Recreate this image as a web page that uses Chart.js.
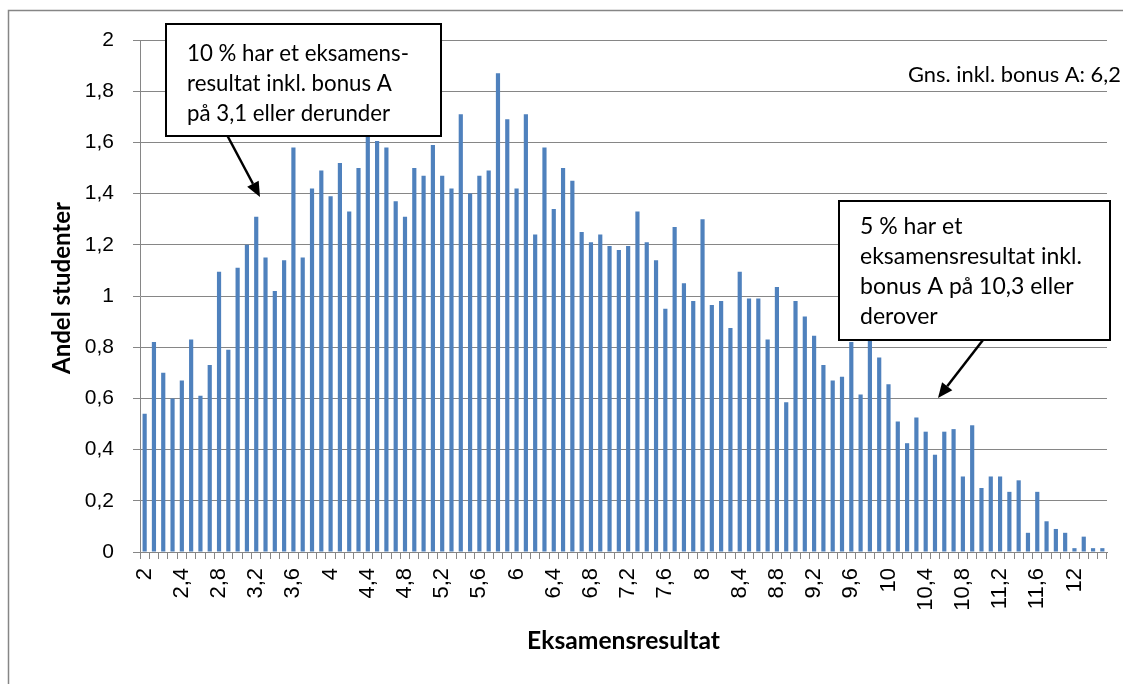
<!DOCTYPE html>
<html>
<head>
<meta charset="utf-8">
<script src="https://cdn.jsdelivr.net/npm/chart.js@4.4.0/dist/chart.umd.min.js"></script>
<style>
  html, body { margin: 0; padding: 0; background: #ffffff; }
  #wrap { width: 1123px; height: 684px; position: relative; }
</style>
</head>
<body>
<div id="wrap"><canvas id="c" width="1123" height="684"></canvas></div>
<script>
// Categories (exam result, step 0.1)
const categories = [
  "2","2,1","2,2","2,3","2,4","2,5","2,6","2,7","2,8","2,9",
  "3","3,1","3,2","3,3","3,4","3,5","3,6","3,7","3,8","3,9",
  "4","4,1","4,2","4,3","4,4","4,5","4,6","4,7","4,8","4,9",
  "5","5,1","5,2","5,3","5,4","5,5","5,6","5,7","5,8","5,9",
  "6","6,1","6,2","6,3","6,4","6,5","6,6","6,7","6,8","6,9",
  "7","7,1","7,2","7,3","7,4","7,5","7,6","7,7","7,8","7,9",
  "8","8,1","8,2","8,3","8,4","8,5","8,6","8,7","8,8","8,9",
  "9","9,1","9,2","9,3","9,4","9,5","9,6","9,7","9,8","9,9",
  "10","10,1","10,2","10,3","10,4","10,5","10,6","10,7","10,8","10,9",
  "11","11,1","11,2","11,3","11,4","11,5","11,6","11,7","11,8","11,9",
  "12","12,1","12,2","12,3"
];

// Share of students (%) per result
const shareValues = [
  0.54, 0.82, 0.70, 0.60, 0.67, 0.83, 0.61, 0.73, 1.095, 0.79,
  1.11, 1.20, 1.31, 1.15, 1.02, 1.14, 1.58, 1.15, 1.42, 1.49,
  1.39, 1.52, 1.33, 1.50, 1.64, 1.605, 1.58, 1.37, 1.31, 1.50,
  1.47, 1.59, 1.47, 1.42, 1.71, 1.40, 1.47, 1.49, 1.87, 1.69,
  1.42, 1.71, 1.24, 1.58, 1.34, 1.50, 1.45, 1.25, 1.21, 1.24,
  1.195, 1.18, 1.195, 1.33, 1.21, 1.14, 0.95, 1.27, 1.05, 0.98,
  1.30, 0.965, 0.98, 0.875, 1.095, 0.99, 0.99, 0.83, 1.035, 0.585,
  0.98, 0.92, 0.845, 0.73, 0.67, 0.685, 0.82, 0.615, 0.85, 0.76,
  0.655, 0.51, 0.425, 0.525, 0.47, 0.38, 0.47, 0.48, 0.295, 0.495,
  0.25, 0.295, 0.295, 0.235, 0.28, 0.075, 0.235, 0.12, 0.09, 0.075,
  0.015, 0.06, 0.015, 0.015
];

// Tick labels shown on the x axis
const xTickLabels = ["2","2,4","2,8","3,2","3,6","4","4,4","4,8","5,2","5,6","6","6,4","6,8",
  "7,2","7,6","8","8,4","8,8","9,2","9,6","10","10,4","10,8","11,2","11,6","12"];

// Y tick labels
const yTickValues = [0, 0.2, 0.4, 0.6, 0.8, 1, 1.2, 1.4, 1.6, 1.8, 2];
const yTickLabels = ["0","0,2","0,4","0,6","0,8","1","1,2","1,4","1,6","1,8","2"];

const annotationLow = ["10 % har et eksamens-", "resultat inkl. bonus A", "på 3,1 eller derunder"];
const annotationHigh = ["5 % har et", "eksamensresultat inkl.", "bonus A på 10,3 eller", "derover"];
const meanText = "Gns. inkl. bonus A: 6,2";
const yTitleText = "Andel studenter";
const xTitleText = "Eksamensresultat";

const GRID = '#868686';
const CAL = 'Lato, "Noto Sans", sans-serif';
const ARIAL = '"Liberation Sans", Arial, sans-serif';

// font size that makes `text` about `target` px wide
function fitSize(text, target, weight) {
  const c = document.createElement('canvas').getContext('2d');
  c.font = (weight || 'normal') + ' 100px ' + CAL;
  return 100 * target / c.measureText(text).width;
}
const boxLowSize = fitSize("resultat inkl. bonus A", 205);
const boxHighSize = fitSize("eksamensresultat inkl.", 222);
const meanSize = fitSize(meanText, 213);
const xTitleSize = fitSize(xTitleText, 193, 'bold');
const yTitleSize = fitSize(yTitleText, 172, 'bold');

function drawArrow(ctx, x1, y1, x2, y2) {
  const ang = Math.atan2(y2 - y1, x2 - x1);
  const hl = 15, hw = 6.5;
  const bx = x2 - hl * Math.cos(ang), by = y2 - hl * Math.sin(ang);
  ctx.save();
  ctx.strokeStyle = '#000'; ctx.fillStyle = '#000';
  ctx.lineWidth = 2.5;
  ctx.beginPath(); ctx.moveTo(x1, y1); ctx.lineTo(bx, by); ctx.stroke();
  ctx.beginPath();
  ctx.moveTo(x2, y2);
  ctx.lineTo(bx + hw * Math.sin(ang), by - hw * Math.cos(ang));
  ctx.lineTo(bx - hw * Math.sin(ang), by + hw * Math.cos(ang));
  ctx.closePath(); ctx.fill();
  ctx.restore();
}

function drawBox(ctx, x, y, w, h, lines, tx, ty, lh, size) {
  ctx.save();
  ctx.fillStyle = '#fff';
  ctx.fillRect(x, y, w, h);
  ctx.strokeStyle = '#000';
  ctx.lineWidth = 2;
  ctx.strokeRect(x, y, w, h);
  ctx.fillStyle = '#000';
  ctx.font = size + 'px ' + CAL;
  ctx.textAlign = 'left';
  ctx.textBaseline = 'middle';
  lines.forEach((l, i) => ctx.fillText(l, tx, ty + i * lh));
  ctx.restore();
}

const decor = {
  id: 'decor',
  beforeDraw(chart) {
    const ctx = chart.ctx;
    ctx.save();
    ctx.fillStyle = '#fff';
    ctx.fillRect(0, 0, chart.width, chart.height);
    ctx.strokeStyle = GRID;
    ctx.lineWidth = 1.5;
    ctx.beginPath();
    ctx.moveTo(8.5, 690); ctx.lineTo(8.5, 10.5); ctx.lineTo(1130, 10.5);
    ctx.stroke();
    ctx.restore();
  },
  afterDraw(chart) {
    const ctx = chart.ctx;
    // y axis title
    ctx.save();
    ctx.translate(62, 288);
    ctx.rotate(-Math.PI / 2);
    ctx.fillStyle = '#000';
    ctx.font = 'bold ' + yTitleSize + 'px ' + CAL;
    ctx.textAlign = 'center';
    ctx.textBaseline = 'middle';
    ctx.fillText(yTitleText, 0, 0);
    ctx.restore();

    drawArrow(ctx, 227, 135, 260, 197);
    drawArrow(ctx, 983, 340, 938, 398);
    drawBox(ctx, 166, 24, 275, 112, annotationLow, 187, 54, 30, boxLowSize);
    drawBox(ctx, 839, 201, 271, 139, annotationHigh, 860, 227, 30, boxHighSize);
    ctx.save();
    ctx.fillStyle = '#000';
    ctx.font = meanSize + 'px ' + CAL;
    ctx.textAlign = 'left';
    ctx.textBaseline = 'middle';
    ctx.fillText(meanText, 908, 75);
    ctx.restore();
  }
};

new Chart(document.getElementById('c'), {
  type: 'bar',
  data: {
    labels: categories,
    datasets: [{
      data: shareValues,
      backgroundColor: '#4F81BD',
      borderWidth: 0,
      barPercentage: 0.45,
      categoryPercentage: 1.0
    }]
  },
  options: {
    responsive: false,
    devicePixelRatio: 1,
    animation: false,
    events: [],
    layout: { padding: { left: 0, right: 16, top: 40, bottom: 0 } },
    plugins: { legend: { display: false }, tooltip: { enabled: false } },
    scales: {
      x: {
        offset: true,
        afterFit(s) { s.height = 132; s.paddingLeft = 0; s.paddingRight = 0; },
        grid: { display: true, drawOnChartArea: false, drawTicks: true, tickLength: 7, color: GRID, offset: true },
        border: { display: true, color: GRID, width: 1 },
        ticks: {
          autoSkip: false, minRotation: 90, maxRotation: 90, padding: 9,
          color: '#000', font: { family: ARIAL, size: 22 },
          callback(v) { const l = categories[v]; return xTickLabels.includes(l) ? l : ''; }
        },
        title: { display: true, text: xTitleText, color: '#000',
          font: { family: CAL, size: xTitleSize, weight: 'bold' }, padding: { top: 0, bottom: 28 } }
      },
      y: {
        min: 0, max: 2,
        afterFit(s) { s.width = 140; s.paddingTop = 0; s.paddingBottom = 0; },
        afterBuildTicks(s) { s.ticks = yTickValues.map(v => ({ value: v })); },
        grid: { color: GRID, lineWidth: 1, tickLength: 7, drawTicks: true },
        border: { display: true, color: GRID, width: 1 },
        ticks: {
          padding: 19, color: '#000', font: { family: ARIAL, size: 21 },
          callback(v) { const i = yTickValues.indexOf(v); return i >= 0 ? yTickLabels[i] : ''; }
        },
        title: { display: false }
      }
    }
  },
  plugins: [decor]
});
</script>
</body>
</html>
